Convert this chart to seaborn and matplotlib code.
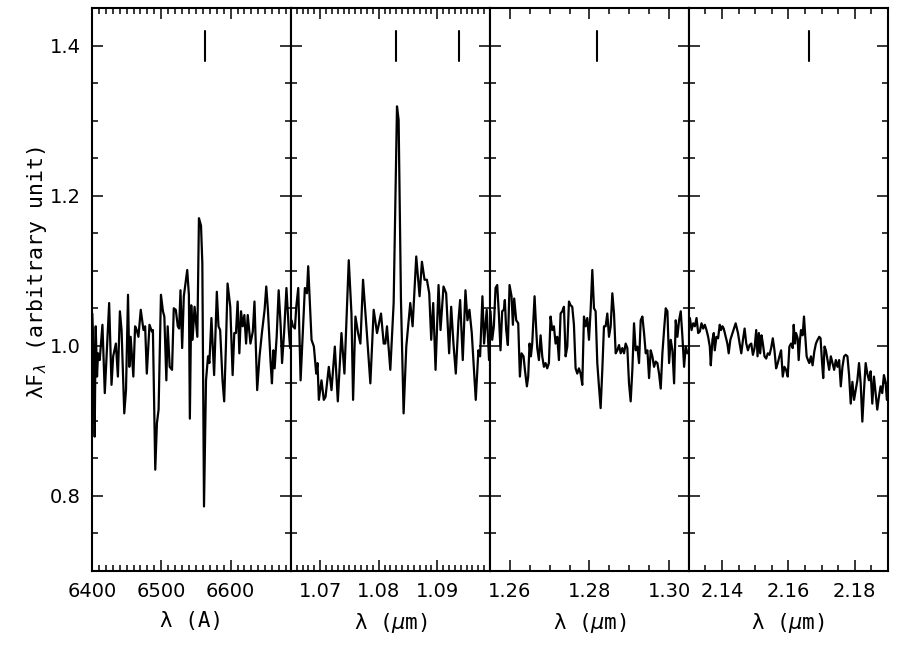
import numpy as np
import pandas as pd
import matplotlib
matplotlib.use("Agg")
import matplotlib.pyplot as plt
from matplotlib.ticker import MultipleLocator, FormatStrFormatter
import seaborn as sns

# --- spectrum data (wavelength, normalised lambda*F_lambda) ---
wave_halpha = [
    6400.5, 6402.5, 6403.9, 6405.4, 6407.3, 6408.8, 6411.2, 6415.1, 6418.5, 6424.8,
    6428.2, 6430.6, 6434.5, 6437.4, 6440.3, 6442.7, 6446.6, 6449.1, 6452.0, 6453.9,
    6455.8, 6459.7, 6462.2, 6464.6, 6467.0, 6470.4, 6474.3, 6476.7, 6479.1, 6483.0,
    6486.4, 6487.9, 6491.3, 6493.7, 6496.1, 6499.5, 6502.4, 6504.4, 6507.3, 6509.2,
    6512.1, 6515.5, 6518.0, 6520.9, 6523.8, 6525.7, 6527.7, 6530.1, 6532.5, 6537.4,
    6539.8, 6541.2, 6543.2, 6545.1, 6548.0, 6552.0, 6554.3, 6557.3, 6559.2, 6561.6,
    6564.5, 6567.4, 6569.4, 6572.3, 6576.2, 6580.1, 6582.5, 6584.9, 6588.3, 6590.7,
    6593.2, 6595.6, 6599.5, 6602.9, 6605.3, 6607.7, 6610.1, 6612.6, 6615.0, 6617.4,
    6619.8, 6622.3, 6624.7, 6628.6, 6632.0, 6634.4, 6638.3, 6641.7, 6645.1, 6649.0,
    6651.4, 6653.8, 6657.7, 6659.6, 6661.6, 6663.5, 6666.4, 6669.3, 6672.2, 6674.2,
    6677.1, 6680.5, 6683.9, 6685.8, 6687.8]
flux_halpha = [
    1.043, 0.986, 0.879, 1.026, 0.959, 0.990, 0.981, 1.028, 0.937, 1.057,
    0.948, 0.986, 1.003, 0.959, 1.046, 1.021, 0.910, 0.941, 1.068, 0.972,
    1.012, 0.959, 1.026, 1.021, 1.012, 1.048, 1.021, 1.026, 0.963, 1.028,
    1.019, 1.021, 0.835, 0.897, 0.915, 1.068, 1.046, 1.039, 0.954, 1.026,
    0.972, 0.968, 1.050, 1.048, 1.026, 1.023, 1.074, 0.997, 1.066, 1.101,
    1.068, 0.903, 1.054, 1.008, 1.052, 1.012, 1.170, 1.160, 1.110, 0.786,
    0.954, 0.986, 0.977, 1.037, 0.961, 1.072, 1.026, 1.021, 0.954, 0.926,
    0.999, 1.083, 1.052, 0.961, 1.017, 1.017, 1.059, 0.990, 1.046, 1.026,
    1.041, 1.003, 1.041, 1.003, 1.019, 1.059, 0.941, 0.986, 1.017, 1.048,
    1.079, 1.048, 0.977, 0.950, 0.994, 0.970, 1.012, 1.074, 1.026, 0.977,
    1.017, 1.077, 1.021, 0.997, 1.021]

wave_hei = [
    1.06511, 1.06534, 1.06568, 1.06591, 1.06625, 1.06665, 1.06738, 1.06773, 1.06795, 1.06852,
    1.06892, 1.06932, 1.06954, 1.06977, 1.07022, 1.07062, 1.07091, 1.07147, 1.07193, 1.07250,
    1.07301, 1.07363, 1.07414, 1.07488, 1.07534, 1.07562, 1.07602, 1.07647, 1.07687, 1.07732,
    1.07789, 1.07857, 1.07914, 1.07971, 1.08039, 1.08085, 1.08113, 1.08141, 1.08198, 1.08255,
    1.08312, 1.08340, 1.08380, 1.08425, 1.08471, 1.08539, 1.08579, 1.08641, 1.08698, 1.08738,
    1.08783, 1.08823, 1.08863, 1.08897, 1.08931, 1.08971, 1.09022, 1.09056, 1.09107, 1.09152,
    1.09203, 1.09238, 1.09277, 1.09317, 1.09363, 1.09391, 1.09436, 1.09482, 1.09516, 1.09550,
    1.09590, 1.09658, 1.09703, 1.09732, 1.09772, 1.09800, 1.09845, 1.09885]
flux_hei = [
    1.034, 1.026, 1.023, 1.052, 1.077, 0.954, 1.077, 1.070, 1.106, 1.008,
    0.999, 0.963, 0.977, 0.928, 0.954, 0.928, 0.932, 0.972, 0.941, 0.999,
    0.926, 1.017, 0.963, 1.114, 1.043, 0.928, 1.039, 1.017, 1.003, 1.088,
    1.026, 0.950, 1.048, 1.017, 1.043, 1.003, 1.003, 1.026, 0.968, 1.057,
    1.319, 1.301, 1.061, 0.910, 0.999, 1.057, 1.026, 1.119, 1.066, 1.112,
    1.088, 1.088, 1.070, 1.008, 1.057, 0.968, 1.081, 1.021, 1.079, 1.070,
    0.990, 1.052, 1.003, 0.963, 1.034, 1.061, 0.981, 1.074, 1.034, 1.048,
    1.017, 0.928, 0.994, 0.986, 1.066, 1.003, 1.048, 0.981]

wave_pab = [
    1.25515, 1.25557, 1.25599, 1.25641, 1.25683, 1.25724, 1.25766, 1.25808, 1.25850, 1.25875,
    1.25909, 1.25951, 1.25993, 1.26043, 1.26077, 1.26110, 1.26161, 1.26211, 1.26253, 1.26295,
    1.26345, 1.26379, 1.26429, 1.26462, 1.26496, 1.26530, 1.26563, 1.26622, 1.26664, 1.26689,
    1.26731, 1.26773, 1.26815, 1.26857, 1.26898, 1.26940, 1.26982, 1.27024, 1.27066, 1.27108,
    1.27150, 1.27192, 1.27234, 1.27276, 1.27318, 1.27360, 1.27402, 1.27444, 1.27486, 1.27527,
    1.27569, 1.27611, 1.27653, 1.27695, 1.27737, 1.27779, 1.27821, 1.27863, 1.27905, 1.27947,
    1.27989, 1.28031, 1.28073, 1.28115, 1.28156, 1.28198, 1.28240, 1.28282, 1.28324, 1.28366,
    1.28408, 1.28450, 1.28492, 1.28534, 1.28576, 1.28618, 1.28660, 1.28702, 1.28744, 1.28786,
    1.28828, 1.28870, 1.28911, 1.28953, 1.28995, 1.29037, 1.29079, 1.29121, 1.29163, 1.29205,
    1.29247, 1.29289, 1.29331, 1.29373, 1.29415, 1.29457, 1.29499, 1.29540, 1.29582, 1.29624,
    1.29666, 1.29708, 1.29750, 1.29792, 1.29834, 1.29876, 1.29918, 1.29960, 1.30002, 1.30044,
    1.30086, 1.30128, 1.30169, 1.30211, 1.30253, 1.30295, 1.30337, 1.30379, 1.30421, 1.30463]
flux_pab = [
    1.046, 1.008, 1.026, 1.077, 1.081, 1.043, 0.994, 1.046, 1.048, 1.061,
    1.021, 1.001, 1.081, 1.066, 1.028, 1.063, 1.034, 1.030, 0.959, 0.990,
    0.986, 0.968, 0.946, 0.959, 1.003, 0.986, 1.003, 1.066, 1.021, 0.997,
    0.981, 1.014, 0.986, 0.972, 0.977, 0.970, 0.977, 1.039, 1.021, 1.026,
    1.003, 1.012, 0.981, 1.043, 1.046, 1.052, 0.986, 0.999, 1.059, 1.054,
    1.052, 1.028, 0.970, 0.963, 0.970, 0.963, 0.948, 1.039, 1.026, 1.037,
    1.008, 1.048, 1.101, 1.050, 1.046, 0.977, 0.946, 0.917, 0.968, 1.026,
    1.026, 1.043, 1.012, 1.026, 1.070, 1.043, 0.990, 0.994, 1.001, 0.990,
    0.997, 0.990, 1.003, 0.997, 0.950, 0.926, 0.968, 1.030, 0.994, 0.999,
    0.977, 1.034, 1.039, 1.017, 0.990, 0.994, 0.957, 0.994, 0.986, 0.972,
    0.979, 0.977, 0.963, 0.943, 0.990, 1.021, 1.050, 1.046, 0.977, 1.008,
    0.994, 0.950, 1.034, 1.012, 1.034, 1.046, 1.012, 0.972, 0.999, 0.990]

wave_brg = [
    2.1303, 2.1308, 2.1313, 2.1318, 2.1323, 2.1328, 2.1333, 2.1338, 2.1343, 2.1348,
    2.1353, 2.1358, 2.1363, 2.1366, 2.1371, 2.1375, 2.1378, 2.1383, 2.1388, 2.1393,
    2.1397, 2.1401, 2.1405, 2.1411, 2.1416, 2.1420, 2.1425, 2.1433, 2.1441, 2.1448,
    2.1453, 2.1458, 2.1463, 2.1468, 2.1473, 2.1478, 2.1483, 2.1488, 2.1493, 2.1498,
    2.1503, 2.1507, 2.1511, 2.1515, 2.1519, 2.1523, 2.1528, 2.1533, 2.1538, 2.1543,
    2.1548, 2.1553, 2.1558, 2.1563, 2.1568, 2.1573, 2.1578, 2.1583, 2.1588, 2.1593,
    2.1598, 2.1603, 2.1608, 2.1613, 2.1616, 2.1620, 2.1623, 2.1628, 2.1631, 2.1635,
    2.1638, 2.1643, 2.1647, 2.1651, 2.1655, 2.1659, 2.1663, 2.1668, 2.1673, 2.1678,
    2.1683, 2.1688, 2.1693, 2.1697, 2.1701, 2.1705, 2.1709, 2.1713, 2.1718, 2.1723,
    2.1728, 2.1733, 2.1738, 2.1743, 2.1748, 2.1753, 2.1758, 2.1763, 2.1768, 2.1773,
    2.1778, 2.1783, 2.1788, 2.1793, 2.1798, 2.1803, 2.1808, 2.1813, 2.1818, 2.1823,
    2.1828, 2.1833, 2.1838, 2.1843, 2.1848, 2.1853, 2.1858, 2.1863, 2.1868, 2.1873,
    2.1878, 2.1883, 2.1888, 2.1893, 2.1897]
flux_brg = [
    1.037, 1.021, 1.030, 1.026, 1.037, 1.017, 1.019, 1.030, 1.023, 1.028,
    1.021, 1.012, 0.999, 0.974, 1.008, 1.017, 0.994, 1.012, 1.010, 1.028,
    1.021, 1.026, 1.023, 1.012, 1.003, 0.990, 1.008, 1.019, 1.030, 1.017,
    1.003, 0.990, 1.008, 1.023, 1.003, 0.994, 1.001, 1.003, 0.988, 0.997,
    1.021, 0.986, 1.017, 0.990, 1.014, 1.003, 0.986, 0.983, 0.990, 0.988,
    0.997, 1.010, 0.994, 0.970, 0.977, 0.986, 0.994, 0.959, 0.972, 0.968,
    0.959, 0.999, 1.003, 0.997, 1.028, 1.003, 1.017, 1.010, 0.981, 1.008,
    1.021, 1.014, 1.039, 1.012, 0.986, 0.981, 0.977, 0.986, 0.974, 0.992,
    1.003, 1.008, 1.012, 1.010, 0.981, 0.957, 0.999, 0.994, 0.981, 0.968,
    0.986, 0.977, 0.968, 0.981, 0.972, 0.981, 0.946, 0.972, 0.986, 0.988,
    0.986, 0.961, 0.923, 0.952, 0.928, 0.941, 0.954, 0.977, 0.950, 0.899,
    0.941, 0.977, 0.963, 0.954, 0.966, 0.923, 0.959, 0.937, 0.915, 0.932,
    0.946, 0.937, 0.961, 0.952, 0.928]

# line positions marked at the top of each panel
lines_halpha = [6563.0]
lines_hei = [1.0830, 1.0938]
lines_pab = [1.2818]
lines_brg = [2.1661]
marker_lo, marker_hi = 1.38, 1.42

panels = [
    dict(wave=wave_halpha, flux=flux_halpha, lines=lines_halpha, xlim=(6400, 6687),
         major=100, minor=10, fmt="%d", xlabel="λ (A)"),
    dict(wave=wave_hei, flux=flux_hei, lines=lines_hei, xlim=(1.065, 1.099),
         major=0.01, minor=0.001, fmt="%.2f", xlabel="λ ($\\mu$m)"),
    dict(wave=wave_pab, flux=flux_pab, lines=lines_pab, xlim=(1.255, 1.305),
         major=0.02, minor=0.005, fmt="%.2f", xlabel="λ ($\\mu$m)"),
    dict(wave=wave_brg, flux=flux_brg, lines=lines_brg, xlim=(2.13, 2.19),
         major=0.02, minor=0.005, fmt="%.2f", xlabel="λ ($\\mu$m)"),
]

sns.set_theme(style="ticks")
plt.rcParams["font.family"] = ["DejaVu Sans"]
plt.rcParams["mathtext.fontset"] = "dejavusans"
plt.rcParams["text.color"] = "black"
plt.rcParams["axes.labelcolor"] = "black"
label_font = ["DejaVu Sans Mono", "DejaVu Sans"]

fig, axes = plt.subplots(1, 4, figsize=(9.06, 6.45), dpi=100, sharey=True)
fig.subplots_adjust(left=0.1015, right=0.980, top=0.9876, bottom=0.1147, wspace=0)

for i, (ax, p) in enumerate(zip(axes, panels)):
    df = pd.DataFrame({"wave": p["wave"], "flux": p["flux"]})
    sns.lineplot(data=df, x="wave", y="flux", ax=ax, color="black",
                 linewidth=1.6, estimator=None, sort=False)
    for lw in p["lines"]:
        ax.plot([lw, lw], [marker_lo, marker_hi], color="black", linewidth=1.5)

    ax.set_xlim(*p["xlim"])
    ax.set_ylim(0.70, 1.45)
    ax.xaxis.set_major_locator(MultipleLocator(p["major"]))
    ax.xaxis.set_minor_locator(MultipleLocator(p["minor"]))
    ax.xaxis.set_major_formatter(FormatStrFormatter(p["fmt"]))
    ax.yaxis.set_major_locator(MultipleLocator(0.2))
    ax.yaxis.set_minor_locator(MultipleLocator(0.05))
    ax.yaxis.set_major_formatter(FormatStrFormatter("%.1f"))

    ax.tick_params(which="both", direction="in", top=True, right=True,
                   bottom=True, left=True, colors="black", width=1.1)
    ax.tick_params(axis="x", which="major", length=8, labelsize=14, pad=8)
    ax.tick_params(axis="x", which="minor", length=4)
    ax.tick_params(axis="y", which="major", length=8, labelsize=14, pad=8)
    ax.tick_params(axis="y", which="minor", length=4)
    if i > 0:
        ax.tick_params(axis="y", labelleft=False)

    for s in ax.spines.values():
        s.set_linewidth(1.5)
        s.set_color("black")

    ax.set_xlabel(p["xlabel"], fontsize=15, labelpad=7, family=label_font,
                  color="black")
    ax.set_ylabel("")

axes[0].set_ylabel("λF$_\\lambda$ (arbitrary unit)", fontsize=15.5,
                   family=label_font, color="black")
axes[0].yaxis.set_label_coords(-0.215, 0.53)

fig.savefig("out.png", dpi=100)
